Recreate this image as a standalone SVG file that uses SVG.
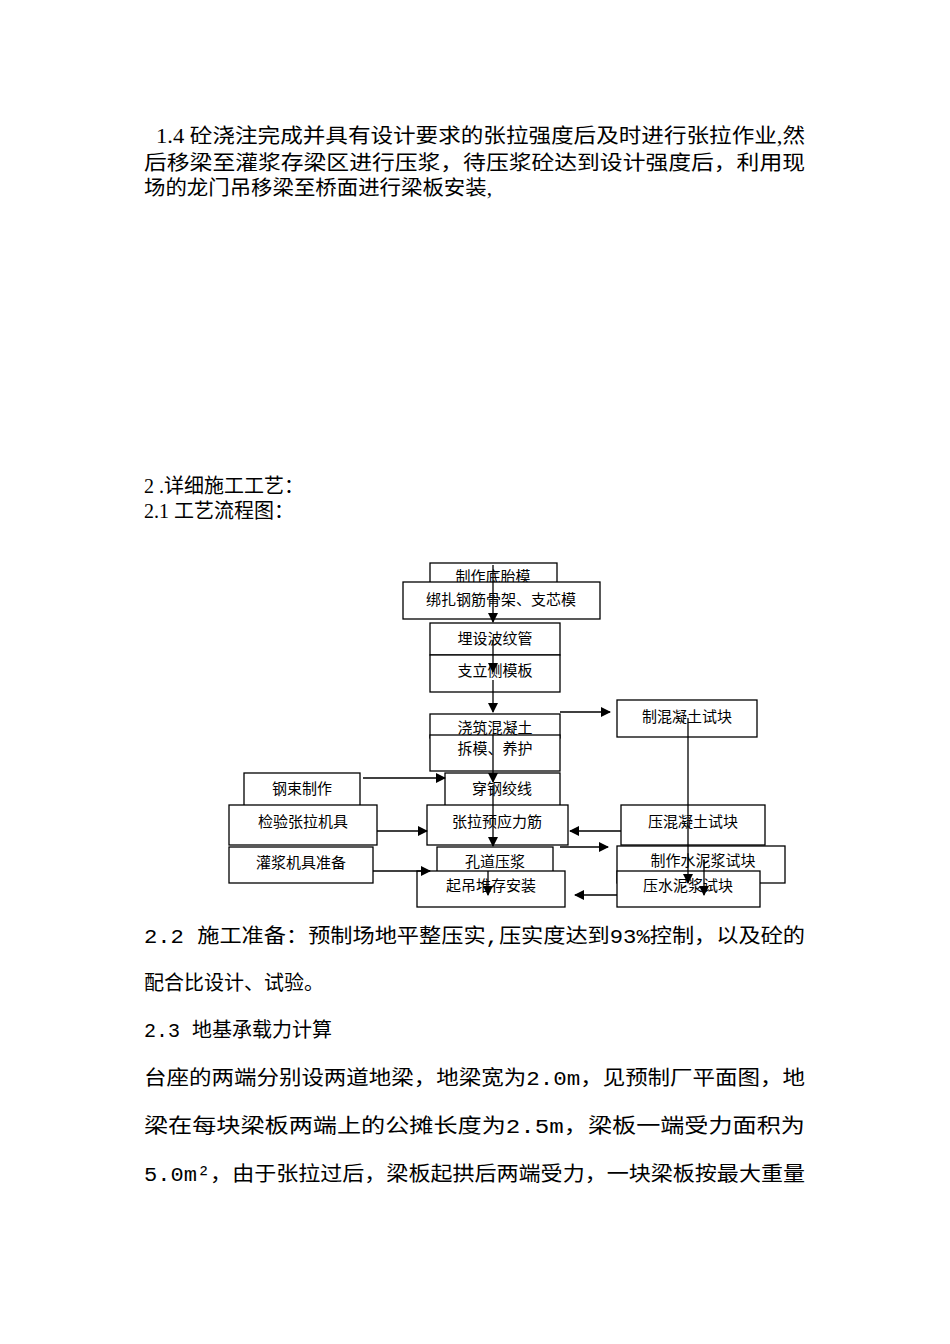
<svg xmlns="http://www.w3.org/2000/svg" width="950" height="1344" viewBox="0 0 950 1344">
<defs><marker id="a" markerWidth="10" markerHeight="10" refX="9" refY="5" orient="auto" markerUnits="userSpaceOnUse"><path d="M0,0 L10,5 L0,10 z" fill="#000"/></marker></defs>
<style>
.b{fill:#fff;stroke:#000;stroke-width:1.3}
.t{font-family:"Liberation Serif","Noto Sans CJK SC",serif;font-size:15px;text-anchor:middle}
.p{font-family:"Liberation Serif","Noto Sans CJK SC",serif;font-size:20px}
.q{font-family:"Liberation Mono","Noto Sans CJK SC",monospace;font-size:20px}
.c{stroke:#000;stroke-width:1.3;fill:none;marker-end:url(#a)}
</style>
<rect width="950" height="1344" fill="#fff"/>
<text class="p" x="156" y="143" textLength="649" lengthAdjust="spacingAndGlyphs">1.4 砼浇注完成并具有设计要求的张拉强度后及时进行张拉作业,然</text>
<text class="p" x="144" y="170" textLength="661" lengthAdjust="spacingAndGlyphs">后移梁至灌浆存梁区进行压浆，待压浆砼达到设计强度后，利用现</text>
<text class="p" x="144" y="195" textLength="348" lengthAdjust="spacingAndGlyphs">场的龙门吊移梁至桥面进行梁板安装,</text>
<text class="p" x="144" y="493">2 .详细施工工艺：</text>
<text class="p" x="144" y="518">2.1 工艺流程图：</text>
<g id="n1"><rect class="b" x="430" y="563" width="127" height="24"/><text class="t" x="493" y="582">制作底胎模</text></g>
<g id="n2"><rect class="b" x="403" y="582" width="197" height="37"/><text class="t" x="501" y="605">绑扎钢筋骨架、支芯模</text></g>
<g id="n3"><rect class="b" x="430" y="623" width="130" height="32"/><text class="t" x="495" y="644">埋设波纹管</text></g>
<g id="n4"><rect class="b" x="430" y="655" width="130" height="37"/><text class="t" x="495" y="676">支立侧模板</text></g>
<g id="n5"><rect class="b" x="430" y="714" width="130" height="24"/><text class="t" x="495" y="733">浇筑混凝土</text></g>
<g id="n6"><rect class="b" x="430" y="735" width="130" height="36"/><text class="t" x="495" y="754">拆模、养护</text></g>
<g id="n7"><rect class="b" x="617" y="700" width="140" height="37"/><text class="t" x="687" y="722">制混凝土试块</text></g>
<g id="n8"><rect class="b" x="244" y="773" width="116" height="33"/><text class="t" x="302" y="794">钢束制作</text></g>
<g id="n9"><rect class="b" x="445" y="773" width="115" height="33"/><text class="t" x="502" y="794">穿钢绞线</text></g>
<g id="n10"><rect class="b" x="229" y="805" width="148" height="40"/><text class="t" x="303" y="827">检验张拉机具</text></g>
<g id="n11"><rect class="b" x="427" y="805" width="141" height="40"/><text class="t" x="497" y="827">张拉预应力筋</text></g>
<g id="n12"><rect class="b" x="621" y="805" width="144" height="40"/><text class="t" x="693" y="827">压混凝土试块</text></g>
<g id="n13"><rect class="b" x="229" y="847" width="144" height="36"/><text class="t" x="301" y="868">灌浆机具准备</text></g>
<g id="n14"><rect class="b" x="437" y="847" width="116" height="26"/><text class="t" x="495" y="867">孔道压浆</text></g>
<g id="n15"><rect class="b" x="617" y="846" width="168" height="37"/><text class="t" x="703" y="866">制作水泥浆试块</text></g>
<g id="n16"><rect class="b" x="417" y="871" width="148" height="36"/><text class="t" x="491" y="891">起吊堆存安装</text></g>
<g id="n17"><rect class="b" x="617" y="871" width="143" height="36"/><text class="t" x="688" y="891">压水泥浆试块</text></g>
<g id="connectors">
<path class="c" d="M493,565 V622"/>
<path class="c" d="M493,640 V672"/>
<path class="c" d="M493,680 V712"/>
<path class="c" d="M560,712 H610"/>
<path class="c" d="M493,735 V782"/>
<path class="c" d="M363,778 H445"/>
<path class="c" d="M493,785 V846"/>
<path class="c" d="M377,831 H427"/>
<path class="c" d="M621,831 H570"/>
<path class="c" d="M560,847 H608"/>
<path class="c" d="M373,871 H430"/>
<path class="c" d="M488,871 V895"/>
<path class="c" d="M688,718 V883"/>
<path class="c" d="M704,860 V895"/>
<path class="c" d="M617,895 H575"/>
</g>
<text class="q" x="144" y="943" textLength="661" lengthAdjust="spacingAndGlyphs">2.2 施工准备：预制场地平整压实,压实度达到93%控制，以及砼的</text>
<text class="q" x="144" y="990">配合比设计、试验。</text>
<text class="q" x="144" y="1037">2.3 地基承载力计算</text>
<text class="q" x="144" y="1085" textLength="661" lengthAdjust="spacingAndGlyphs">台座的两端分别设两道地梁，地梁宽为2.0m，见预制厂平面图，地</text>
<text class="q" x="144" y="1133" textLength="661" lengthAdjust="spacingAndGlyphs">梁在每块梁板两端上的公摊长度为2.5m，梁板一端受力面积为</text>
<text class="q" x="144" y="1181" textLength="661" lengthAdjust="spacingAndGlyphs">5.0m²，由于张拉过后，梁板起拱后两端受力，一块梁板按最大重量</text>
</svg>
